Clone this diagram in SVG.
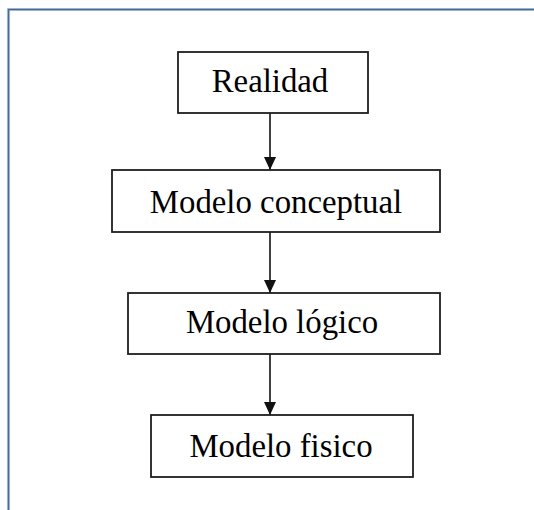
<svg xmlns="http://www.w3.org/2000/svg" width="534" height="510" viewBox="0 0 534 510">
<defs>
<style>
.box{fill:#fff;stroke:#1e1e1e;stroke-width:1.8}
.lbl{font-family:"Liberation Serif","Times New Roman",serif;font-size:32.8px;fill:#000;text-anchor:middle}
.con{stroke:#111;stroke-width:1.6;fill:none}
</style>
<marker id="ah" markerWidth="13" markerHeight="12" refX="13" refY="6" orient="auto" markerUnits="userSpaceOnUse">
<path d="M0,0 L13,6 L0,12 Z" fill="#111"/>
</marker>
</defs>
<rect width="534" height="510" fill="#fff"/>
<g id="frame">
<path d="M8.5,510 V9.5 H534" fill="none" stroke="#b9cde4" stroke-width="3.2"/>
<path d="M8.5,510 V9.5 H534" fill="none" stroke="#4a6a94" stroke-width="1.5"/>
</g>
<g id="connectors">
<line class="con" x1="270" y1="113" x2="270" y2="170" marker-end="url(#ah)"/>
<line class="con" x1="270" y1="232" x2="270" y2="293" marker-end="url(#ah)"/>
<line class="con" x1="270" y1="354" x2="270" y2="415" marker-end="url(#ah)"/>
</g>
<g id="realidad">
<rect class="box" x="178" y="52" width="190" height="61"/>
<text class="lbl" x="270" y="92">Realidad</text>
</g>
<g id="conceptual">
<rect class="box" x="112" y="170" width="328" height="62"/>
<text class="lbl" x="276" y="213">Modelo conceptual</text>
</g>
<g id="logico">
<rect class="box" x="128" y="293" width="312" height="61"/>
<text class="lbl" x="282" y="333">Modelo lógico</text>
</g>
<g id="fisico">
<rect class="box" x="151" y="415" width="262" height="62"/>
<text class="lbl" x="281" y="457">Modelo fisico</text>
</g>
</svg>
